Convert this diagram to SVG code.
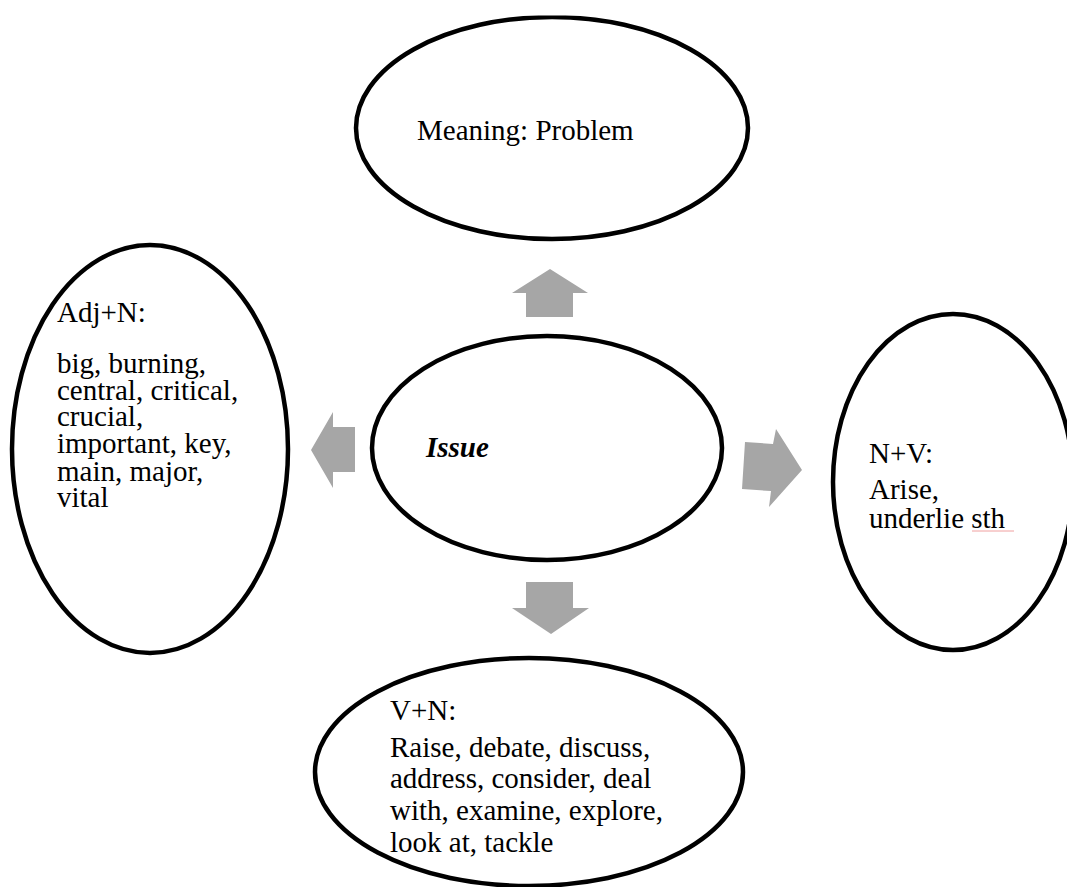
<svg xmlns="http://www.w3.org/2000/svg" width="1067" height="887" viewBox="0 0 1067 887">
<style>
.node ellipse{fill:#ffffff;stroke:#000000;stroke-width:4.5}
.t{font-family:"Liberation Serif","Times New Roman",serif;font-size:29px;fill:#000000}
.bi{font-weight:bold;font-style:italic}
.arrow{fill:#a6a6a6;stroke:none}
</style>
<defs>
<clipPath id="topclip"><rect x="0" y="15.5" width="1067" height="871.5"/></clipPath>
</defs>
<rect x="0" y="0" width="1067" height="887" fill="#ffffff"/>
<g id="meaning" class="node" clip-path="url(#topclip)">
<ellipse cx="552" cy="128" rx="196" ry="111"/>
<text class="t" x="417" y="140">Meaning: Problem</text>
</g>
<g id="issue" class="node">
<ellipse cx="547" cy="448" rx="175" ry="112"/>
<text class="t bi" x="426" y="457">Issue</text>
</g>
<g id="adj-n" class="node">
<ellipse cx="150" cy="449" rx="138" ry="204"/>
<text class="t" x="57" y="322">Adj+N:</text>
<text class="t" x="57" y="373">big, burning,</text>
<text class="t" x="57" y="400">central, critical,</text>
<text class="t" x="57" y="426">crucial,</text>
<text class="t" x="57" y="453">important, key,</text>
<text class="t" x="57" y="481">main, major,</text>
<text class="t" x="57" y="507">vital</text>
</g>
<g id="n-v" class="node">
<ellipse cx="953" cy="482" rx="120" ry="168"/>
<text class="t" x="869" y="463">N+V:</text>
<text class="t" x="869" y="499">Arise,</text>
<text class="t" x="869" y="528">underlie sth</text>
<line x1="972" y1="531" x2="1014" y2="531" stroke="#f0a0a0" stroke-width="1"/>
</g>
<g id="v-n" class="node">
<ellipse cx="529" cy="772" rx="214" ry="114"/>
<text class="t" x="390" y="720">V+N:</text>
<text class="t" x="390" y="757">Raise, debate, discuss,</text>
<text class="t" x="390" y="788">address, consider, deal</text>
<text class="t" x="390" y="820">with, examine, explore,</text>
<text class="t" x="390" y="852">look at, tackle</text>
</g>
<g id="connectors">
<polygon class="arrow" points="550,269 588,293 573,293 573,317 526,317 526,293 512,293"/>
<polygon class="arrow" points="526,582 573,582 573,608 589,608 551,634 512,608 526,608"/>
<polygon class="arrow" points="311,450 333,412 333,427 355,427 355,472 333,472 333,488"/>
<polygon class="arrow" points="745,442 773,444 776,429 802,470 769,507 771,491 742,489"/>
</g>
</svg>
